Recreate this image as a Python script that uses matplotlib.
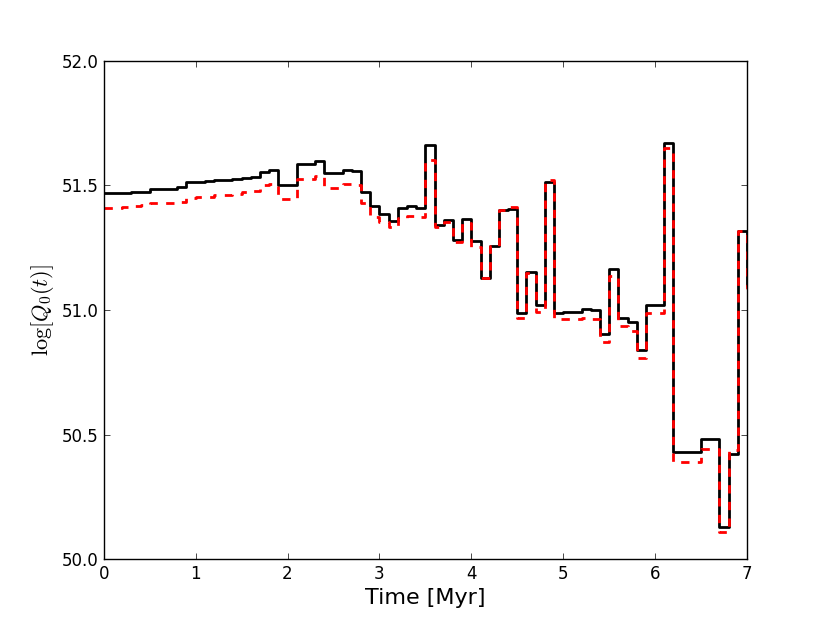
import numpy as np
import matplotlib
matplotlib.use("Agg")
import matplotlib.pyplot as plt

plt.rcParams['mathtext.fontset'] = 'cm'
plt.rcParams['lines.scale_dashes'] = False
plt.rcParams['font.family'] = ['DejaVu Sans']

time_myr = [round(0.1 * i, 1) for i in range(72)]

q0_black = [51.471, 51.471, 51.471, 51.475, 51.475, 51.485, 51.485, 51.486, 51.495, 51.513,
            51.514, 51.518, 51.522, 51.523, 51.527, 51.531, 51.535, 51.555, 51.563, 51.502,
            51.502, 51.586, 51.587, 51.598, 51.549, 51.549, 51.561, 51.560, 51.475, 51.418,
            51.386, 51.357, 51.408, 51.416, 51.408, 51.663, 51.341, 51.363, 51.281, 51.364,
            51.279, 51.127, 51.259, 51.400, 51.405, 50.989, 51.151, 51.019, 51.515, 50.989,
            50.992, 50.992, 51.004, 51.000, 50.902, 51.165, 50.967, 50.950, 50.839, 51.019,
            51.019, 51.669, 50.428, 50.428, 50.428, 50.481, 50.481, 50.127, 50.422, 51.318,
            51.100, 51.100]

q0_red = [51.411, 51.411, 51.413, 51.418, 51.420, 51.428, 51.428, 51.430, 51.432, 51.451,
          51.452, 51.455, 51.460, 51.462, 51.467, 51.474, 51.476, 51.503, 51.505, 51.446,
          51.446, 51.525, 51.527, 51.539, 51.489, 51.489, 51.506, 51.504, 51.428, 51.375,
          51.355, 51.335, 51.371, 51.378, 51.372, 51.602, 51.335, 51.355, 51.272, 51.350,
          51.252, 51.128, 51.258, 51.402, 51.413, 50.966, 51.148, 50.990, 51.522, 50.962,
          50.962, 50.962, 50.967, 50.962, 50.870, 51.138, 50.937, 50.917, 50.806, 50.989,
          50.989, 51.649, 50.388, 50.388, 50.388, 50.441, 50.441, 50.110, 50.438, 51.318,
          51.090, 51.090]

fig = plt.figure(figsize=(8.3, 6.23), dpi=100)
ax = fig.add_axes([0.125, 0.1027, 0.775, 0.7994])

ax.plot(time_myr, q0_black, drawstyle='steps-post', color='black', lw=2)
ax.plot(time_myr, q0_red, drawstyle='steps-post', color='red', lw=2,
        linestyle='--', dashes=(6, 6))

ax.set_xlim(0, 7)
ax.set_ylim(50.0, 52.0)
ax.set_xticks(range(0, 8))
ax.set_yticks([50.0, 50.5, 51.0, 51.5, 52.0])
ax.set_yticklabels(['50.0', '50.5', '51.0', '51.5', '52.0'])
ax.tick_params(direction='in', length=4, width=0.5, top=True, right=True,
               labelsize=12, pad=4)
ax.tick_params(which='minor', length=0)
for s in ax.spines.values():
    s.set_linewidth(1)

ax.set_xlabel('Time [Myr]', fontsize=16)
ax.set_ylabel(r'$\log[Q_0(t)]$', fontsize=16)

fig.savefig('out.png', dpi=100)
